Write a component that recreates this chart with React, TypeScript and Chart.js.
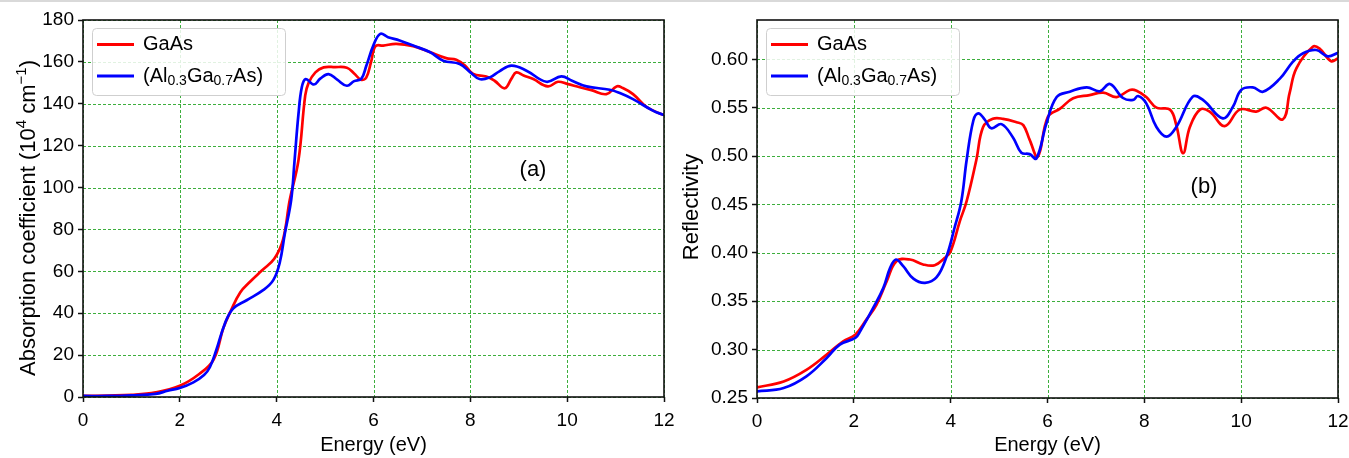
import React, { useEffect, useRef } from "react";
import { Chart, registerables } from "chart.js";

Chart.register(...registerables);

// ---------- data ----------
const energyTicks = [0, 2, 4, 6, 8, 10, 12];
const absorptionTicks = [0, 20, 40, 60, 80, 100, 120, 140, 160, 180];
const reflectivityTicks = [0.25, 0.3, 0.35, 0.4, 0.45, 0.5, 0.55, 0.6];

const seriesLabels = ["GaAs", "(Al0.3Ga0.7As)"];

// (a) absorption coefficient, GaAs
const absGaAsEnergy = [0, 0.5, 1.0, 1.5, 2.0, 2.4, 2.7, 2.9, 3.05, 3.25, 3.45, 3.7, 3.95, 4.13, 4.27, 4.45, 4.59, 4.66, 4.8, 4.97, 5.2, 5.45, 5.6, 5.74, 5.85, 5.95, 6.04, 6.2, 6.47, 6.82, 7.16, 7.5, 7.71, 7.9, 8.06, 8.33, 8.5, 8.71, 8.85, 8.95, 9.1, 9.3, 9.6, 9.81, 10.0, 10.26, 10.5, 10.81, 11.02, 11.15, 11.36, 11.62, 11.8, 12.0];
const absGaAsValue = [0.5, 0.7, 1.0, 2.2, 5.4, 11, 18, 33, 41, 50, 55, 60.5, 66, 75, 94, 113, 144, 150, 155, 157.4, 157.5, 157.2, 154.5, 151.5, 152.5, 160, 167.5, 167.8, 168.6, 167.5, 164.7, 161.8, 161, 158, 154.2, 153, 151, 147.4, 152, 155, 153.5, 151.8, 148.3, 150.5, 149.5, 147.9, 146.5, 144.6, 148.3, 147.5, 144.6, 138.8, 136.5, 134.6];

// (a) absorption coefficient, Al0.3Ga0.7As
const absAlGaAsEnergy = [0, 0.5, 1.0, 1.5, 1.75, 2.0, 2.28, 2.5, 2.62, 2.75, 2.93, 3.1, 3.38, 3.72, 3.93, 4.06, 4.17, 4.3, 4.37, 4.45, 4.52, 4.6, 4.77, 4.9, 5.07, 5.25, 5.45, 5.6, 5.75, 5.85, 6.0, 6.14, 6.3, 6.54, 6.82, 7.16, 7.44, 7.78, 8.0, 8.19, 8.4, 8.6, 8.85, 9.16, 9.57, 9.88, 10.1, 10.4, 10.88, 11.1, 11.36, 11.78, 12.0];
const absAlGaAsValue = [0.5, 0.5, 0.8, 1.5, 3, 4.3, 7, 10.5, 14.2, 22.2, 35, 42.2, 46.2, 51, 55.8, 63.8, 78.2, 94.2, 113, 135, 148, 151.8, 149.2, 152, 154.2, 151.5, 148.6, 150.8, 152, 158, 168, 173.4, 171.8, 170.2, 167.8, 164.7, 160.6, 159, 155, 151.8, 152.6, 155.5, 158.2, 155.8, 150.5, 153.1, 151, 148.3, 146.7, 145, 142.2, 136.6, 134.6];

// (b) reflectivity, GaAs
const refGaAsEnergy = [0, 0.55, 1.02, 1.44, 1.78, 2.03, 2.26, 2.47, 2.68, 2.88, 3.16, 3.43, 3.67, 3.88, 4.0, 4.19, 4.33, 4.53, 4.67, 4.87, 5.08, 5.36, 5.5, 5.63, 5.8, 6.01, 6.26, 6.53, 6.87, 7.15, 7.43, 7.7, 7.84, 8.04, 8.25, 8.53, 8.66, 8.8, 8.94, 9.15, 9.35, 9.66, 9.97, 10.31, 10.52, 10.86, 11.0, 11.14, 11.48, 11.62, 11.86, 12.0];
const refGaAsValue = [0.261, 0.267, 0.279, 0.2948, 0.3086, 0.3155, 0.331, 0.3466, 0.3707, 0.3914, 0.3931, 0.388, 0.3872, 0.3948, 0.4017, 0.4328, 0.4534, 0.496, 0.53, 0.5385, 0.5385, 0.535, 0.532, 0.517, 0.4994, 0.5407, 0.549, 0.5597, 0.563, 0.5655, 0.561, 0.5683, 0.5676, 0.561, 0.55, 0.548, 0.532, 0.5029, 0.53, 0.548, 0.546, 0.531, 0.548, 0.546, 0.55, 0.538, 0.565, 0.5907, 0.613, 0.611, 0.598, 0.601];

// (b) reflectivity, Al0.3Ga0.7As
const refAlGaAsEnergy = [0, 0.55, 1.02, 1.44, 1.71, 2.03, 2.13, 2.4, 2.61, 2.75, 2.87, 3.02, 3.23, 3.47, 3.71, 3.91, 4.08, 4.22, 4.33, 4.47, 4.57, 4.7, 4.84, 5.05, 5.29, 5.46, 5.63, 5.77, 5.98, 6.19, 6.46, 6.81, 7.08, 7.29, 7.56, 7.77, 7.87, 8.04, 8.25, 8.46, 8.66, 9.0, 9.21, 9.62, 9.83, 10.0, 10.24, 10.45, 10.8, 11.07, 11.28, 11.55, 11.79, 12.0];
const refAlGaAsValue = [0.2569, 0.2603, 0.2724, 0.2914, 0.3052, 0.3121, 0.319, 0.3431, 0.3638, 0.3845, 0.3931, 0.3862, 0.3734, 0.369, 0.3748, 0.3955, 0.4259, 0.4534, 0.496, 0.537, 0.5442, 0.538, 0.5287, 0.533, 0.519, 0.5035, 0.502, 0.4975, 0.534, 0.561, 0.5665, 0.571, 0.567, 0.5745, 0.56, 0.558, 0.562, 0.5545, 0.53, 0.52, 0.53, 0.5614, 0.558, 0.539, 0.551, 0.5683, 0.571, 0.5665, 0.58, 0.5975, 0.6062, 0.6096, 0.603, 0.6068];

// ---------- styling ----------
const FONT = '"Liberation Sans", Arial, Helvetica, sans-serif';
const RED = "#ff0000";
const BLUE = "#0000ff";
const GRID = "rgba(40,165,40,0.9)";

type Seg = { t: string; s?: "sub" | "sup" };

const legendParts: Seg[][] = [
  [{ t: seriesLabels[0] }],
  [{ t: "(Al" }, { t: "0.3", s: "sub" }, { t: "Ga" }, { t: "0.7", s: "sub" }, { t: "As)" }],
];

function segWidth(ctx: CanvasRenderingContext2D, segs: Seg[], size: number) {
  let w = 0;
  for (const sg of segs) {
    ctx.font = `${sg.s ? Math.round(size * 0.7) : size}px ${FONT}`;
    w += ctx.measureText(sg.t).width;
  }
  return w;
}

function drawRich(ctx: CanvasRenderingContext2D, segs: Seg[], x: number, y: number, size: number) {
  let cx = x;
  for (const sg of segs) {
    const sz = sg.s ? Math.round(size * 0.7) : size;
    ctx.font = `${sz}px ${FONT}`;
    const dy = sg.s === "sub" ? size * 0.28 : sg.s === "sup" ? -size * 0.42 : 0;
    ctx.fillText(sg.t, cx, y + dy);
    cx += ctx.measureText(sg.t).width;
  }
}

interface PanelProps {
  left: number;
  width: number;
  padTop: number;
  padRight: number;
  xHeight: number;
  yWidth: number;
  yMin: number;
  yMax: number;
  yTicks: number[];
  yFmt: (v: number) => string;
  redX: number[];
  redY: number[];
  blueX: number[];
  blueY: number[];
  yTitle: Seg[];
  yTitleSize: number;
  yTitleX: number;
  yTitleY: number;
  tag: string;
  tagX: number;
  tagY: number;
}

function Panel(p: PanelProps) {
  const ref = useRef<HTMLCanvasElement | null>(null);
  useEffect(() => {
    if (!ref.current) return;
    const gridPlugin = {
      id: "dashGrid",
      beforeDatasetsDraw(chart: any) {
        const ctx: CanvasRenderingContext2D = chart.ctx;
        const a = chart.chartArea;
        const xs = chart.scales.x;
        const ys = chart.scales.y;
        ctx.save();
        ctx.strokeStyle = GRID;
        ctx.lineWidth = 1;
        ctx.setLineDash([3, 2]);
        energyTicks.forEach((v) => {
          const px = Math.round(xs.getPixelForValue(v)) + 0.5;
          ctx.beginPath();
          ctx.moveTo(px, a.top);
          ctx.lineTo(px, a.bottom);
          ctx.stroke();
        });
        p.yTicks.forEach((v) => {
          const py = Math.round(ys.getPixelForValue(v)) + 0.5;
          ctx.beginPath();
          ctx.moveTo(a.left, py);
          ctx.lineTo(a.right, py);
          ctx.stroke();
        });
        ctx.restore();
      },
    };
    const decor = {
      id: "decor",
      afterDraw(chart: any) {
        const ctx: CanvasRenderingContext2D = chart.ctx;
        const a = chart.chartArea;
        ctx.save();
        // frame
        ctx.strokeStyle = "#111";
        ctx.lineWidth = 1.6;
        ctx.strokeRect(a.left, a.top, a.right - a.left, a.bottom - a.top);
        // legend box
        const bx = 92, by = 28, bw = 193, bh = 67;
        ctx.beginPath();
        (ctx as any).roundRect(bx + 0.5, by + 0.5, bw, bh, 4);
        ctx.fillStyle = "rgba(255,255,255,0.85)";
        ctx.fill();
        ctx.strokeStyle = "#cfcfcf";
        ctx.lineWidth = 1;
        ctx.stroke();
        const rows = [by + 16.5, by + 48];
        const colors = [RED, BLUE];
        rows.forEach((ry, i) => {
          ctx.strokeStyle = colors[i];
          ctx.lineWidth = 2.8;
          ctx.beginPath();
          ctx.moveTo(bx + 5, ry);
          ctx.lineTo(bx + 42, ry);
          ctx.stroke();
          ctx.fillStyle = "#000";
          ctx.textBaseline = "middle";
          ctx.textAlign = "left";
          drawRich(ctx, legendParts[i], bx + 51, ry, 20);
        });
        // x title
        ctx.fillStyle = "#000";
        ctx.textBaseline = "alphabetic";
        ctx.textAlign = "center";
        ctx.font = `20px ${FONT}`;
        ctx.fillText("Energy (eV)", (a.left + a.right) / 2, 451);
        // y title (rotated)
        ctx.save();
        ctx.translate(p.yTitleX, p.yTitleY);
        ctx.rotate(-Math.PI / 2);
        ctx.textAlign = "left";
        const tw = segWidth(ctx, p.yTitle, p.yTitleSize);
        drawRich(ctx, p.yTitle, -tw / 2, 0, p.yTitleSize);
        ctx.restore();
        // panel tag
        ctx.textAlign = "center";
        ctx.textBaseline = "middle";
        ctx.font = `22px ${FONT}`;
        ctx.fillText(p.tag, p.tagX, p.tagY);
        ctx.restore();
      },
    };

    const tickFont = { family: FONT, size: 19 };
    const chart = new Chart(ref.current, {
      type: "line",
      data: {
        datasets: [
          {
            label: seriesLabels[0],
            data: p.redX.map((x, i) => ({ x, y: p.redY[i] })),
            borderColor: RED,
            borderWidth: 2.7,
            pointRadius: 0,
            tension: 0.4,
            fill: false,
            order: 1,
          },
          {
            label: seriesLabels[1],
            data: p.blueX.map((x, i) => ({ x, y: p.blueY[i] })),
            borderColor: BLUE,
            borderWidth: 2.7,
            pointRadius: 0,
            tension: 0.4,
            fill: false,
            order: 0,
          },
        ],
      },
      options: {
        animation: false,
        responsive: false,
        maintainAspectRatio: false,
        layout: { padding: { left: 0, right: p.padRight, top: p.padTop, bottom: 0 } },
        plugins: { legend: { display: false }, tooltip: { enabled: false } },
        scales: {
          x: {
            type: "linear",
            min: 0,
            max: 12,
            afterFit: (s: any) => {
              s.height = p.xHeight;
              s.paddingLeft = 0;
              s.paddingRight = 0;
            },
            afterBuildTicks: (s: any) => {
              s.ticks = energyTicks.map((v) => ({ value: v }));
            },
            ticks: { color: "#000", font: tickFont, padding: 7, maxRotation: 0, callback: (v: any) => String(v) },
            grid: { drawOnChartArea: false, drawTicks: true, tickLength: 5, tickColor: "#111", tickWidth: 1.5 },
            border: { display: false },
          },
          y: {
            type: "linear",
            min: p.yMin,
            max: p.yMax,
            afterFit: (s: any) => {
              s.width = p.yWidth;
              s.paddingTop = 0;
              s.paddingBottom = 0;
            },
            afterBuildTicks: (s: any) => {
              s.ticks = p.yTicks.map((v) => ({ value: v }));
            },
            ticks: { color: "#000", font: tickFont, padding: 4, callback: (v: any) => p.yFmt(Number(v)) },
            grid: { drawOnChartArea: false, drawTicks: true, tickLength: 5, tickColor: "#111", tickWidth: 1.5 },
            border: { display: false },
          },
        },
      },
      plugins: [gridPlugin, decor],
    } as any);
    return () => chart.destroy();
  }, []);
  return (
    <canvas
      ref={ref}
      width={p.width}
      height={458}
      style={{ position: "absolute", left: p.left, top: 0, width: p.width, height: 458 }}
    />
  );
}

export default function App() {
  return (
    <div style={{ position: "absolute", left: 0, top: 0, width: 1349, height: 458, background: "#fff", overflow: "hidden" }}>
      <div style={{ position: "absolute", left: 0, top: 0, width: 1349, height: 2, background: "#d9d9d9" }} />
      <Panel
        left={0}
        width={674}
        padTop={20}
        padRight={10}
        xHeight={61}
        yWidth={83}
        yMin={0}
        yMax={180}
        yTicks={absorptionTicks}
        yFmt={(v) => String(v)}
        redX={absGaAsEnergy}
        redY={absGaAsValue}
        blueX={absAlGaAsEnergy}
        blueY={absAlGaAsValue}
        yTitle={[{ t: "Absorption coefficient (10" }, { t: "4", s: "sup" }, { t: " cm" }, { t: "\u22121", s: "sup" }, { t: ")" }]}
        yTitleSize={22}
        yTitleX={35}
        yTitleY={218}
        tag="(a)"
        tagX={533}
        tagY={170}
      />
      <Panel
        left={674}
        width={675}
        padTop={20}
        padRight={11}
        xHeight={60}
        yWidth={83}
        yMin={0.25}
        yMax={0.6406}
        yTicks={reflectivityTicks}
        yFmt={(v) => v.toFixed(2)}
        redX={refGaAsEnergy}
        redY={refGaAsValue}
        blueX={refAlGaAsEnergy}
        blueY={refAlGaAsValue}
        yTitle={[{ t: "Reflectivity" }]}
        yTitleSize={22}
        yTitleX={24}
        yTitleY={207}
        tag="(b)"
        tagX={530}
        tagY={187}
      />
    </div>
  );
}
